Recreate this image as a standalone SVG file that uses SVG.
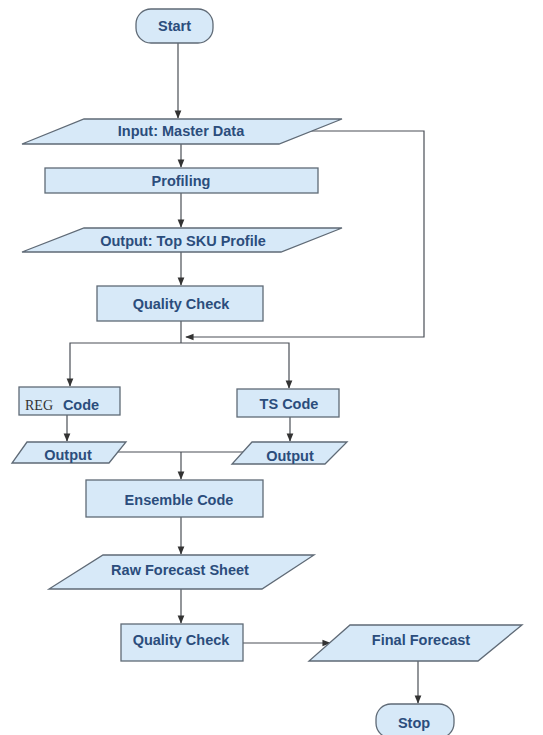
<svg xmlns="http://www.w3.org/2000/svg" width="543" height="735" viewBox="0 0 543 735">
<defs>
<style>
.s{fill:#d7e9f8;stroke:#5f6a76;stroke-width:1.3}
.t{font-family:"Liberation Sans",Arial,sans-serif;font-weight:bold;font-size:14.5px;fill:#2b4d7c;text-anchor:middle;dominant-baseline:central}
.c{fill:none;stroke:#4a4f56;stroke-width:1.2}
</style>
<marker id="a" viewBox="0 0 10 10" refX="9" refY="5" markerWidth="7" markerHeight="7" orient="auto">
<path d="M0,1 L10,5 L0,9 Z" fill="#333"/>
</marker>
</defs>
<rect width="543" height="735" fill="#fff"/>
<g id="connectors">
<path class="c" d="M178,43 V118" marker-end="url(#a)"/>
<path class="c" d="M311,131 H424 V337 H186" marker-end="url(#a)"/>
<path class="c" d="M181,144 V167" marker-end="url(#a)"/>
<path class="c" d="M181,193 V227" marker-end="url(#a)"/>
<path class="c" d="M181,252 V285" marker-end="url(#a)"/>
<path class="c" d="M181,321 V343"/>
<path class="c" d="M181,343 H289 V388" marker-end="url(#a)"/>
<path class="c" d="M181,343 H70 V386" marker-end="url(#a)"/>
<path class="c" d="M67,415 V441" marker-end="url(#a)"/>
<path class="c" d="M290,417 V441" marker-end="url(#a)"/>
<path class="c" d="M117,452 H243"/>
<path class="c" d="M181,452 V479" marker-end="url(#a)"/>
<path class="c" d="M181,517 V554" marker-end="url(#a)"/>
<path class="c" d="M181,589 V623" marker-end="url(#a)"/>
<path class="c" d="M243,643 H330" marker-end="url(#a)"/>
<path class="c" d="M418,661 V703" marker-end="url(#a)"/>
</g>
<g id="start">
<rect class="s" x="136" y="9" width="77" height="34" rx="15"/>
<text class="t" x="174.5" y="26">Start</text>
</g>
<g id="input">
<polygon class="s" points="84,119 342,119 279,144 22,144"/>
<text class="t" x="181" y="131">Input: Master Data</text>
</g>
<g id="profiling">
<rect class="s" x="45" y="168" width="273" height="25"/>
<text class="t" x="181" y="181">Profiling</text>
</g>
<g id="output-top">
<polygon class="s" points="84,228 342,228 281,252 22,252"/>
<text class="t" x="183" y="241">Output: Top SKU Profile</text>
</g>
<g id="quality-check-1">
<rect class="s" x="97" y="286" width="166" height="35"/>
<text class="t" x="181" y="304">Quality Check</text>
</g>
<g id="reg-code">
<rect class="s" x="19" y="387" width="101" height="28"/>
<text x="25" y="405" dominant-baseline="central" font-family="'Liberation Serif','Times New Roman',serif" font-size="14" fill="#333">REG</text>
<text class="t" x="81" y="405">Code</text>
</g>
<g id="ts-code">
<rect class="s" x="237" y="389" width="102" height="28"/>
<text class="t" x="289" y="404">TS Code</text>
</g>
<g id="output-left">
<polygon class="s" points="27,442 126,442 109,463 12,463"/>
<text class="t" x="68" y="455">Output</text>
</g>
<g id="output-right">
<polygon class="s" points="252,442 347,442 325,464 232,464"/>
<text class="t" x="290" y="456">Output</text>
</g>
<g id="ensemble">
<rect class="s" x="86" y="480" width="177" height="37"/>
<text class="t" x="179" y="500">Ensemble Code</text>
</g>
<g id="raw-forecast">
<polygon class="s" points="103,555 314,555 262,589 49,589"/>
<text class="t" x="180" y="570">Raw Forecast Sheet</text>
</g>
<g id="quality-check-2">
<rect class="s" x="121" y="624" width="122" height="37"/>
<text class="t" x="181" y="640">Quality Check</text>
</g>
<g id="final-forecast">
<polygon class="s" points="350,625 522,625 478,661 309,661"/>
<text class="t" x="421" y="640">Final Forecast</text>
</g>
<g id="stop">
<rect class="s" x="376" y="704" width="78" height="34" rx="15"/>
<text class="t" x="414" y="723">Stop</text>
</g>
</svg>
